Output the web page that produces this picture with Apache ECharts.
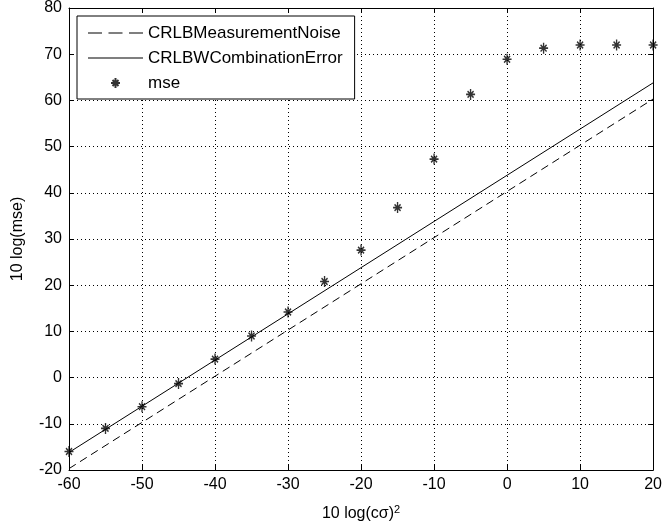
<!DOCTYPE html>
<html><head><meta charset="utf-8">
<script src="https://cdn.jsdelivr.net/npm/echarts@6/dist/echarts.min.js"></script>
<style>html,body{margin:0;padding:0;background:#fff}#c{width:665px;height:532px}</style>
</head><body><div id="c"></div>
<script>
var xValues = [-60,-55,-50,-45,-40,-35,-30,-25,-20,-15,-10,-5,0,5,10,15,20];
var mseValues = [-16,-11,-6.3,-1.3,4,9,14.2,20.8,27.6,36.8,47.3,61.3,68.9,71.3,72,72,72];
var crlbNoiseX = [-60,20];
var crlbNoiseY = [-19.7,60.3];
var crlbCombX = [-60,20];
var crlbCombY = [-16.2,63.8];

function pairs(xs, ys){ return xs.map(function(x,i){return [x, ys[i]];}); }
var font = 'Liberation Sans, Arial, sans-serif';
var chart = echarts.init(document.getElementById('c'));
var star = 'path://M5,0 L5,10 M0.5,5 L9.5,5 M2,2 L8,8 M8,2 L2,8';
var dashIcon = 'path://M0,0h13v1h-13z M19,0h13v1h-13z M38,0h13v1h-13z';
var solidIcon = 'path://M0,0h55v1h-55z';
function sideAxis(pos, min, max, itv){
  return {type:'value', min:min, max:max, interval:itv, position:pos,
    axisLine:{onZero:false, lineStyle:{color:'#000'}},
    axisTick:{inside:true, length:5, lineStyle:{color:'#000'}},
    axisLabel:{show:false}, splitLine:{show:false}};
}
chart.setOption({
  animation:false,
  backgroundColor:'#fff',
  grid:{left:69, right:9, top:8, bottom:62, containLabel:false},
  legend:{
    orient:'vertical', left:77, top:16,
    backgroundColor:'#fff', borderColor:'#000', borderWidth:1,
    padding:[7,12,6,11], itemGap:5, itemWidth:55, itemHeight:10,
    textStyle:{fontFamily:font, fontSize:17, color:'#000', lineHeight:20},
    data:[{name:'CRLBMeasurementNoise', icon:dashIcon},
          {name:'CRLBWCombinationError', icon:solidIcon},
          {name:'mse'}]
  },
  xAxis:[
    {type:'value', min:-60, max:20, interval:10, position:'bottom',
     name:'10 log(c\u03c3){s|2}', nameLocation:'middle', nameGap:34,
     nameTextStyle:{fontFamily:font, fontSize:16, color:'#000', rich:{s:{fontSize:11, verticalAlign:'top', padding:[0,0,9,0], fontFamily:font, color:'#000'}}},
     axisLine:{onZero:false, lineStyle:{color:'#000', width:1}},
     axisTick:{inside:true, length:5, lineStyle:{color:'#000'}},
     axisLabel:{fontFamily:font, fontSize:16, color:'#000', margin:7},
     splitLine:{show:true, lineStyle:{color:'#000', type:[1,3], width:1}}},
    sideAxis('top', -60, 20, 10)
  ],
  yAxis:[
    {type:'value', min:-20, max:80, interval:10, position:'left',
     name:'10 log(mse)', nameLocation:'middle', nameGap:43, nameRotate:90,
     nameTextStyle:{fontFamily:font, fontSize:16, color:'#000'},
     axisLine:{onZero:false, lineStyle:{color:'#000', width:1}},
     axisTick:{inside:true, length:5, lineStyle:{color:'#000'}},
     axisLabel:{fontFamily:font, fontSize:16, color:'#000', margin:7},
     splitLine:{show:true, lineStyle:{color:'#000', type:[1,3], width:1}}},
    sideAxis('right', -20, 80, 10)
  ],
  series:[
    {name:'CRLBMeasurementNoise', type:'line', data:pairs(crlbNoiseX, crlbNoiseY),
     symbol:'none', color:'#000', lineStyle:{color:'#000', width:1, type:[8,5]}},
    {name:'CRLBWCombinationError', type:'line', data:pairs(crlbCombX, crlbCombY),
     symbol:'none', color:'#000', lineStyle:{color:'#000', width:1}},
    {name:'mse', type:'scatter', data:pairs(xValues, mseValues), symbol:star, symbolSize:[9,11],
     color:'#000', itemStyle:{color:'none', borderColor:'#000', borderWidth:1.5}}
  ]
});
</script></body></html>
